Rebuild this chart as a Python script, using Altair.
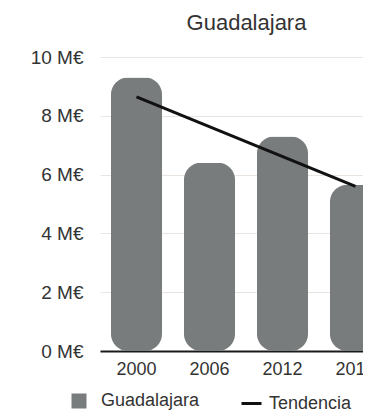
import altair as alt
import pandas as pd

years = ["2000", "2006", "2012", "2018"]
values = [9.3, 6.4, 7.3, 5.65]
series_bar = "Guadalajara"

trend_years = ["2000", "2018"]
trend_values = [8.64, 5.6]
series_line = "Tendencia"

y_ticks = [0, 2, 4, 6, 8, 10]

bar_df = pd.DataFrame({"year": years, "value": values, "series": [series_bar] * len(years)})
line_df = pd.DataFrame({"year": trend_years, "value": trend_values, "series": [series_line] * len(trend_years)})

FONT = "Liberation Sans"
TXT = "#333333"

x_enc = alt.X(
    "year:N",
    sort=years,
    scale=alt.Scale(range=[0, 292], paddingInner=0.3, paddingOuter=0.15),
    axis=alt.Axis(
        title=None, labelAngle=0, ticks=False, domainColor="#1a1a1a", domainWidth=2,
        labelFontSize=18, labelPadding=9, labelColor=TXT, grid=False,
    ),
)
y_enc = alt.Y(
    "value:Q",
    scale=alt.Scale(domain=[0, 10], nice=False),
    axis=alt.Axis(
        title=None, values=y_ticks, labelExpr="datum.value + ' M€'", ticks=False,
        domain=False, gridColor="#e9e4df", gridWidth=1, labelPadding=17,
        labelFontSize=19, labelColor=TXT,
    ),
)

bars = alt.Chart(bar_df).mark_bar(cornerRadius=17, color="#787c7c").encode(
    x=x_enc,
    y=y_enc,
    color=alt.Color(
        "series:N",
        scale=alt.Scale(domain=[series_bar], range=["#787c7c"]),
        legend=alt.Legend(
            title=None, orient="none", legendX=-30, legendY=335, symbolType="square",
            symbolSize=225, symbolStrokeWidth=0, labelFontSize=18, labelColor=TXT,
            labelOffset=13,
        ),
    ),
)

trend = alt.Chart(line_df).mark_line(strokeWidth=3).encode(
    x=alt.X("year:N", sort=years),
    y=alt.Y("value:Q"),
    color=alt.Color(
        "series:N",
        scale=alt.Scale(domain=[series_line], range=["#111111"]),
        legend=alt.Legend(
            title=None, orient="none", legendX=140, legendY=335, symbolType="stroke",
            symbolSize=400, symbolStrokeWidth=3, labelFontSize=18, labelColor=TXT,
            labelOffset=6,
        ),
    ),
)

chart = (
    alt.layer(bars, trend)
    .resolve_scale(color="independent")
    .properties(
        width=263,
        height=294,
        title=alt.Title("Guadalajara", fontSize=22, fontWeight="normal", color=TXT,
                        offset=13, anchor="middle", dx=15),
        padding={"left": 92, "top": 49, "right": 0, "bottom": 61},
        autosize=alt.AutoSizeParams(type="none"),
    )
    .configure(font=FONT)
    .configure_view(stroke=None)
)

chart.save("out.html", embed_options={"renderer": "svg", "actions": False})
